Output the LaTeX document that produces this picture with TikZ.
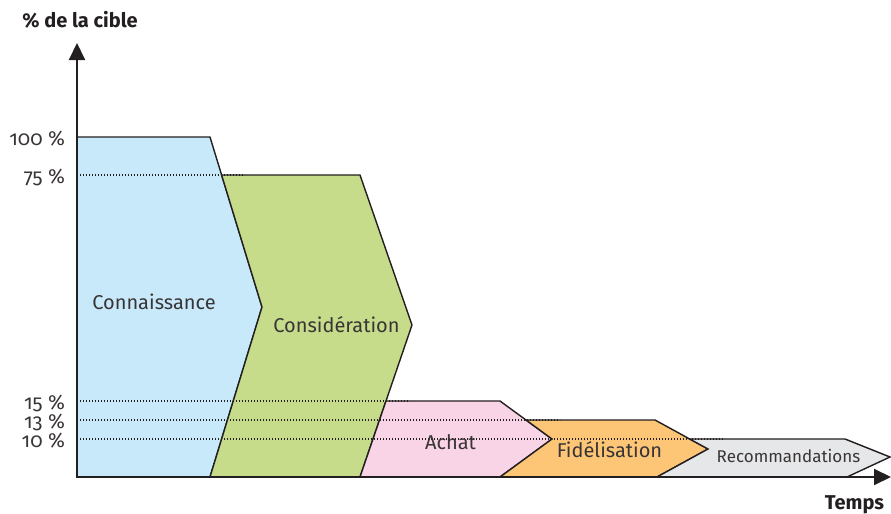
\documentclass[tikz,border=0pt]{standalone}
\usepackage{fontspec}
\setmainfont{Fira Sans}[Numbers=OldStyle]
\usetikzlibrary{arrows.meta}
\definecolor{cblue}{HTML}{C7E9F9}
\definecolor{cgreen}{HTML}{C6DC8A}
\definecolor{cpink}{HTML}{F9D4E6}
\definecolor{corange}{HTML}{FDC677}
\definecolor{cgray}{HTML}{E6E7E8}
\definecolor{ink}{HTML}{231F20}

\begin{document}
\begin{tikzpicture}[x=0.5pt,y=-0.5pt,
    phase/.style={draw=ink,line width=0.7pt,line join=miter},
    level/.style={ink,line width=0.6pt,dash pattern=on 0.6pt off 0.9pt},
    lbl/.style={anchor=base,text=ink!90,font=\fontsize{10}{12}\selectfont},
    tick/.style={anchor=base east,text=ink!90,font=\fontsize{10.2}{12}\selectfont},
    ttl/.style={anchor=base,text=ink,font=\fontsize{10}{12}\selectfont\bfseries}]
  \useasboundingbox (0,0) rectangle (891,514);
  \coordinate (O) at (77,477);
  \coordinate (ytip) at (77,43);
  \coordinate (xtip) at (891,477);
  \filldraw[phase,fill=cblue] (77,137) -- (210,137) -- (262,307) -- (210,477) -- (O) -- cycle;
  \filldraw[phase,fill=cgreen] (221.6,175) -- (360,175) -- (412,325) -- (360,477) -- (210,477) -- (262,307) -- cycle;
  \filldraw[phase,fill=cpink] (386,401) -- (500,401) -- (552,439) -- (500,477) -- (360,477) -- cycle;
  \filldraw[phase,fill=corange] (526,420) -- (655,420) -- (708,449) -- (657,477) -- (500,477) -- (552,439) -- cycle;
  \filldraw[phase,fill=cgray] (689.7,439) -- (845,439) -- (890,457) -- (847,477) -- (657,477) -- (708,449) -- cycle;
  \foreach \p/\y/\e in {100/137/77, 75/175/245, 15/401/410, 13/420/560, 10/439/725} {
    \draw[level] (77,\y) -- (\e,\y);
    \node[tick] (t\p) at (72,\y+8.5) {\p~\%};
  }
  \node[lbl] (connaissance) at (154,309) {Connaissance};
  \node[lbl] (consideration) at (336.5,332) {Considération};
  \node[lbl] (achat) at (450.5,449) {Achat};
  \node[lbl] (fidelisation) at (609.5,457) {Fidélisation};
  \node[lbl,font=\fontsize{8.5}{10}\selectfont] (recommandations) at (788.5,462) {Recommandations};
  \draw[ink,line width=1pt,{Triangle[width=8pt,length=8.5pt]}-{Triangle[width=8pt,length=8.5pt]}] (ytip) -- (O) -- (xtip);
  \node[ttl] (cible) at (80,27) {\% de la cible};
  \node[ttl] (temps) at (854.5,509) {Temps};
\end{tikzpicture}
\end{document}
